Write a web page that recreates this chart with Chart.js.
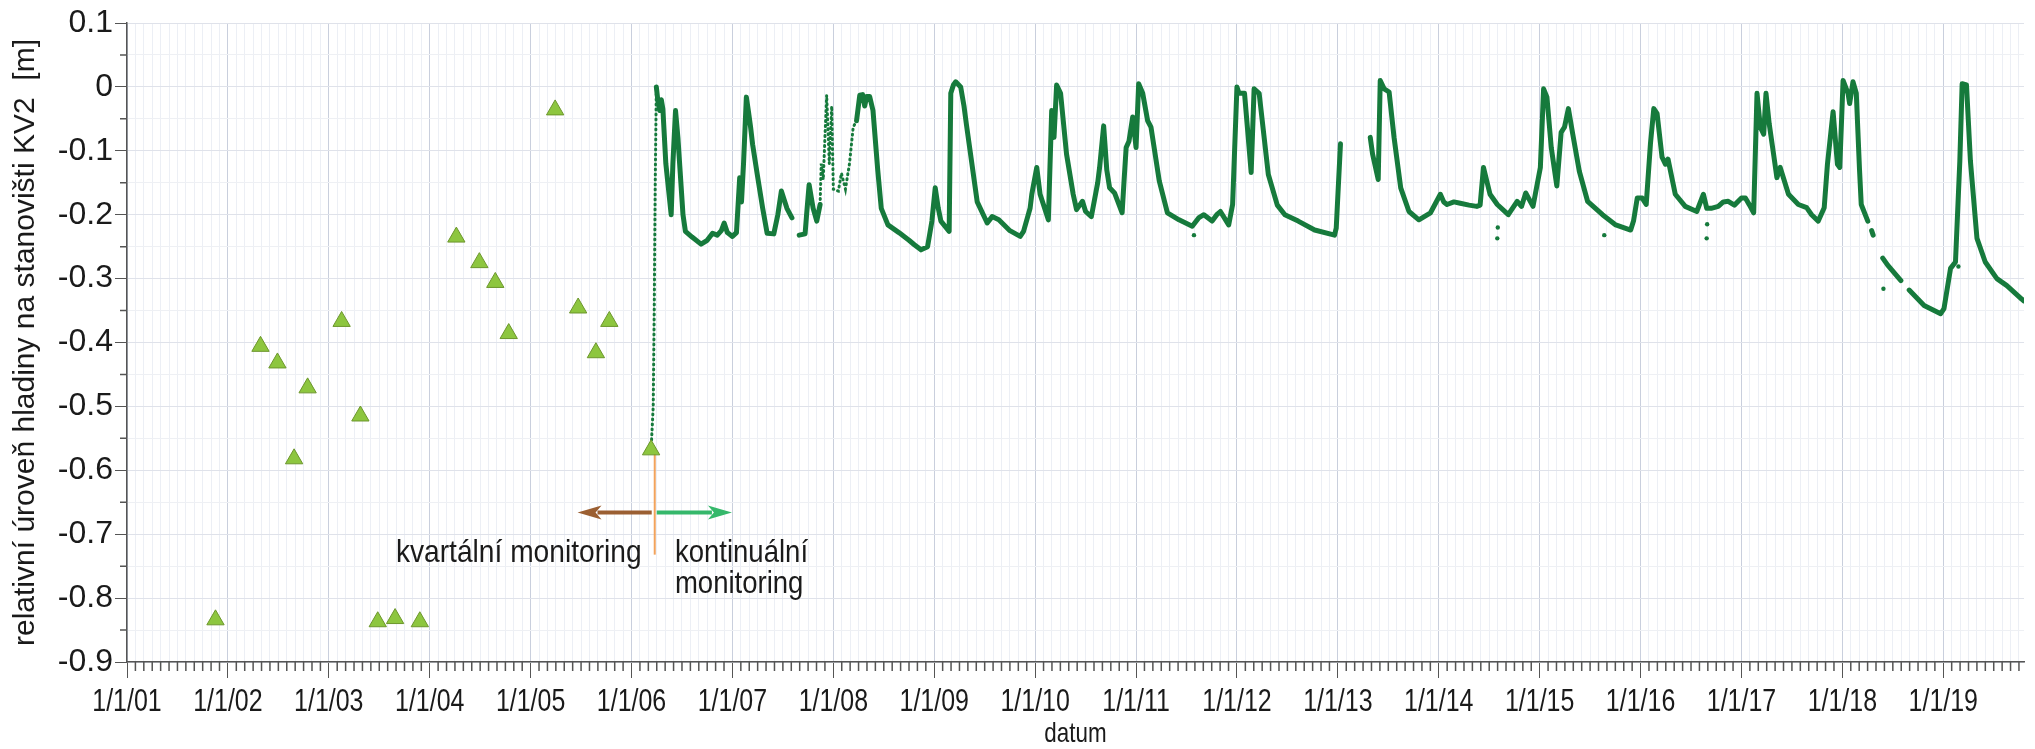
<!DOCTYPE html>
<html>
<head>
<meta charset="utf-8">
<title>KV2</title>
<script src="https://cdn.jsdelivr.net/npm/chart.js@4.4.0/dist/chart.umd.min.js"></script>
<style>
  html, body { margin: 0; padding: 0; background: #fff; }
  #wrap { position: relative; width: 2035px; height: 749px; }
</style>
</head>
<body>
<div id="wrap"><canvas id="kv2Chart"></canvas></div>
<script>
// x values are decimal years, y values relative water level [m]

// quarterly readings (triangles)
const quarterYears = [2001.877, 2002.323, 2002.491, 2002.656, 2002.790, 2003.127, 2003.313, 2003.485, 2003.657, 2003.902,
    2004.264, 2004.492, 2004.650, 2004.783, 2005.243, 2005.471, 2005.647, 2005.780, 2006.194];
const quarterLevels = [-0.834, -0.406, -0.432, -0.582, -0.471, -0.367, -0.515, -0.837, -0.832, -0.837,
    -0.235, -0.275, -0.306, -0.386, -0.036, -0.346, -0.416, -0.367, -0.568];

// logger record, null = gap in the record
const loggerYears = [
    2006.246, 2006.260, 2006.279, 2006.295, 2006.311, 2006.340, 2006.393, 2006.410, 2006.436, 2006.460,
    2006.510, 2006.534, 2006.600, 2006.689, 2006.750, 2006.803, 2006.850, 2006.890, 2006.918, 2006.950,
    2007.000, 2007.040, 2007.072, 2007.090, 2007.110, 2007.138, 2007.160, 2007.180, 2007.200, 2007.246,
    2007.300, 2007.344, 2007.410, 2007.450, 2007.485, 2007.540, 2007.590, 2007.620, 2007.662, 2007.720,
    2007.735, 2007.760, 2007.800, 2007.836, 2007.869, 2007.900, 2008.230, 2008.262, 2008.290, 2008.311,
    2008.330, 2008.360, 2008.393, 2008.440, 2008.475, 2008.541, 2008.650, 2008.750, 2008.803, 2008.869,
    2008.934, 2008.977, 2009.010, 2009.040, 2009.066, 2009.148, 2009.164, 2009.190, 2009.213, 2009.262,
    2009.295, 2009.320, 2009.426, 2009.525, 2009.574, 2009.640, 2009.750, 2009.852, 2009.885, 2009.950,
    2009.967, 2010.016, 2010.049, 2010.131, 2010.164, 2010.187, 2010.213, 2010.252, 2010.311, 2010.377,
    2010.410, 2010.469, 2010.500, 2010.557, 2010.620, 2010.639, 2010.679, 2010.710, 2010.738, 2010.787,
    2010.862, 2010.880, 2010.902, 2010.930, 2010.967, 2011.000, 2011.026, 2011.066, 2011.115, 2011.148,
    2011.230, 2011.311, 2011.426, 2011.557, 2011.620, 2011.672, 2011.754, 2011.800, 2011.836, 2011.918,
    2011.957, 2012.000, 2012.020, 2012.075, 2012.141, 2012.170, 2012.220, 2012.311, 2012.400, 2012.475,
    2012.607, 2012.770, 2012.967, 2012.984, 2013.026, 2013.100, 2013.321, 2013.344, 2013.400, 2013.420,
    2013.459, 2013.508, 2013.557, 2013.623, 2013.705, 2013.803, 2013.918, 2014.016, 2014.050, 2014.082,
    2014.150, 2014.213, 2014.300, 2014.377, 2014.410, 2014.443, 2014.508, 2014.580, 2014.689, 2014.777,
    2014.820, 2014.862, 2014.934, 2015.007, 2015.039, 2015.072, 2015.115, 2015.170, 2015.213, 2015.246,
    2015.285, 2015.328, 2015.393, 2015.475, 2015.623, 2015.754, 2015.902, 2015.930, 2015.967, 2016.016,
    2016.056, 2016.098, 2016.131, 2016.164, 2016.213, 2016.246, 2016.272, 2016.344, 2016.443, 2016.557,
    2016.623, 2016.656, 2016.700, 2016.770, 2016.820, 2016.869, 2016.930, 2017.000, 2017.039, 2017.080,
    2017.121, 2017.154, 2017.187, 2017.220, 2017.243, 2017.275, 2017.318, 2017.351, 2017.384, 2017.466,
    2017.564, 2017.646, 2017.695, 2017.761, 2017.820, 2017.852, 2017.908, 2017.951, 2017.974, 2018.007,
    2018.056, 2018.072, 2018.105, 2018.138, 2018.170, 2018.187, 2018.252, 2018.270, 2018.290, 2018.305,
    2018.350, 2018.400, 2018.449, 2018.580, 2018.620, 2018.662, 2018.810, 2018.974, 2019.007, 2019.072,
    2019.121, 2019.164, 2019.187, 2019.230, 2019.269, 2019.334, 2019.416, 2019.531, 2019.630, 2019.777,
    2019.800
];
const loggerLevels = [
    0.000, -0.020, -0.037, -0.020, -0.035, -0.120, -0.200, -0.120, -0.037, -0.080,
    -0.200, -0.226, -0.235, -0.246, -0.240, -0.229, -0.232, -0.225, -0.213, -0.228,
    -0.234, -0.228, -0.142, -0.180, -0.120, -0.016, -0.040, -0.063, -0.090, -0.137,
    -0.190, -0.229, -0.230, -0.200, -0.163, -0.190, -0.205, null, -0.232, -0.230,
    -0.200, -0.153, -0.190, -0.210, -0.184, null, -0.053, -0.013, -0.012, -0.030,
    -0.015, -0.015, -0.037, -0.130, -0.190, -0.216, -0.228, -0.240, -0.247, -0.255,
    -0.250, -0.210, -0.158, -0.190, -0.210, -0.226, -0.010, 0.003, 0.008, 0.000,
    -0.030, -0.060, -0.180, -0.213, -0.203, -0.208, -0.225, -0.234, -0.226, -0.190,
    -0.168, -0.126, -0.168, -0.208, -0.037, -0.079, 0.003, -0.010, -0.105, -0.168,
    -0.192, -0.179, -0.195, -0.203, -0.150, -0.126, -0.061, -0.130, -0.158, -0.166,
    -0.197, -0.150, -0.095, -0.085, -0.047, -0.095, 0.005, -0.010, -0.053, -0.063,
    -0.147, -0.197, -0.208, -0.218, -0.205, -0.200, -0.210, -0.200, -0.195, -0.216,
    -0.184, 0.000, -0.010, -0.010, -0.134, -0.003, -0.010, -0.137, -0.185, -0.200,
    -0.210, -0.224, -0.232, -0.221, -0.089, null, -0.079, -0.105, -0.145, 0.010,
    -0.003, -0.008, -0.079, -0.158, -0.195, -0.208, -0.197, -0.168, -0.180, -0.184,
    -0.180, -0.182, -0.185, -0.187, -0.185, -0.126, -0.168, -0.184, -0.200, -0.179,
    -0.187, -0.166, -0.187, -0.126, -0.003, -0.016, -0.095, -0.155, -0.071, -0.063,
    -0.034, -0.074, -0.132, -0.179, -0.200, -0.216, -0.224, -0.210, -0.174, -0.174,
    -0.184, -0.089, -0.034, -0.042, -0.110, -0.121, -0.113, -0.168, -0.187, -0.195,
    -0.168, -0.190, -0.190, -0.187, -0.180, -0.179, -0.185, -0.174, -0.174, -0.185,
    -0.197, -0.010, -0.063, -0.074, -0.010, -0.058, -0.105, -0.142, -0.126, -0.168,
    -0.184, -0.189, -0.200, -0.210, -0.189, -0.121, -0.039, -0.121, -0.126, 0.010,
    -0.010, -0.026, 0.008, -0.010, -0.130, -0.184, -0.210, null, -0.225, -0.232,
    null, -0.268, -0.279, -0.303, null, -0.318, -0.342, -0.355, -0.347, -0.284,
    -0.274, -0.116, 0.005, 0.003, -0.116, -0.237, -0.274, -0.300, -0.311, -0.332,
    -0.335
];

// thin dotted stretches: start of logging and the sparse winter 2007/08
const sparseYears = [2006.194, 2006.215, 2006.225, 2006.235, 2006.246, 2007.000,
    2007.869, 2007.880, 2007.900, 2007.934, 2007.960, 2007.984, 2008.000, 2008.050, 2008.080, 2008.120,
    2008.160, 2008.197, 2008.230];
const sparseLevels = [-0.568, -0.500, -0.350, -0.150, 0.000, null,
    -0.184, -0.120, -0.145, -0.013, -0.120, -0.030, -0.160, -0.163, -0.135, -0.160,
    -0.120, -0.063, -0.053];

// single stray logger readings
const strayYears = [2011.574, 2014.580, 2014.585, 2015.640, 2016.655, 2016.660, 2018.407, 2019.150];
const strayLevels = [-0.232, -0.237, -0.220, -0.232, -0.237, -0.215, -0.316, -0.281];

const yearLabels = ['1/1/01', '1/1/02', '1/1/03', '1/1/04', '1/1/05', '1/1/06', '1/1/07', '1/1/08', '1/1/09', '1/1/10',
    '1/1/11', '1/1/12', '1/1/13', '1/1/14', '1/1/15', '1/1/16', '1/1/17', '1/1/18', '1/1/19'];

const SANS = "'Liberation Sans', Arial, sans-serif";
const AXIS = '#555';
const TEXT = '#1a1a1a';
const LINE_GREEN = '#167a3c';

// switch from quarterly to continuous monitoring
const switchYear = 2006.23;

const isWhole = v => Math.abs(v - Math.round(v)) < 1e-6;
const isTenth = v => Math.abs(v * 10 - Math.round(v * 10)) < 1e-6;

function toPoints(xs, ys) {
    return xs.map((x, i) => ({ x: x, y: ys[i] }));
}

// the original figure has tall, narrow lettering - squeeze the text horizontally
function drawNarrow(ctx, text, x, y, align, size, squeeze) {
    ctx.save();
    ctx.translate(x, y);
    ctx.scale(squeeze, 1);
    ctx.font = size + 'px ' + SANS;
    ctx.fillStyle = TEXT;
    ctx.textAlign = align;
    ctx.textBaseline = 'middle';
    ctx.fillText(text, 0, 0);
    ctx.restore();
}

function drawArrow(ctx, x0, x1, y, color) {
    const dir = Math.sign(x1 - x0);
    const head = 24;
    ctx.strokeStyle = color;
    ctx.fillStyle = color;
    ctx.lineWidth = 4;
    ctx.beginPath();
    ctx.moveTo(x0, y);
    ctx.lineTo(x1 - dir * (head - 4), y);
    ctx.stroke();
    ctx.beginPath();
    ctx.moveTo(x1, y);
    ctx.lineTo(x1 - dir * head, y - 7);
    ctx.lineTo(x1 - dir * (head - 6), y);
    ctx.lineTo(x1 - dir * head, y + 7);
    ctx.closePath();
    ctx.fill();
}

const monitoringNotePlugin = {
    id: 'monitoringNote',
    beforeDatasetsDraw: (chart) => {
        const { ctx, scales } = chart;
        const x = scales.x, y = scales.y;
        const xs = x.getPixelForValue(switchYear);

        ctx.save();
        ctx.strokeStyle = '#f2a35c';
        ctx.lineWidth = 2;
        ctx.beginPath();
        ctx.moveTo(xs, y.getPixelForValue(-0.568));
        ctx.lineTo(xs, y.getPixelForValue(-0.732));
        ctx.stroke();

        const ya = y.getPixelForValue(-0.666);
        drawArrow(ctx, xs - 3, x.getPixelForValue(2005.465), ya, '#9b5f32');
        drawArrow(ctx, xs + 2, x.getPixelForValue(2006.995), ya, '#35b86b');
        ctx.restore();

        drawNarrow(ctx, 'kvartální monitoring', x.getPixelForValue(2006.10), y.getPixelForValue(-0.729), 'right', 32, 0.88);
        drawNarrow(ctx, 'kontinuální', x.getPixelForValue(2006.43), y.getPixelForValue(-0.729), 'left', 32, 0.86);
        drawNarrow(ctx, 'monitoring', x.getPixelForValue(2006.43), y.getPixelForValue(-0.778), 'left', 32, 0.86);
    }
};

// short month / 0.05 ticks plus the date labels and axis name
const axisDetailPlugin = {
    id: 'axisDetail',
    afterDraw: (chart) => {
        const { ctx, chartArea, scales } = chart;
        ctx.save();
        ctx.strokeStyle = AXIS;
        ctx.lineWidth = 1.5;
        ctx.beginPath();
        scales.x.ticks.forEach(t => {
            if (isWhole(t.value)) return;
            const px = scales.x.getPixelForValue(t.value);
            ctx.moveTo(px, chartArea.bottom);
            ctx.lineTo(px, chartArea.bottom + 9);
        });
        scales.y.ticks.forEach(t => {
            if (isTenth(t.value)) return;
            const py = scales.y.getPixelForValue(t.value);
            ctx.moveTo(chartArea.left, py);
            ctx.lineTo(chartArea.left - 7, py);
        });
        ctx.stroke();
        ctx.restore();

        yearLabels.forEach((label, i) => {
            drawNarrow(ctx, label, scales.x.getPixelForValue(2001 + i), chartArea.bottom + 40, 'center', 32, 0.78);
        });
        drawNarrow(ctx, 'datum', (chartArea.left + chartArea.right) / 2, chartArea.bottom + 72, 'center', 28, 0.8);
    }
};

new Chart(document.getElementById('kv2Chart'), {
    type: 'line',
    data: {
        datasets: [{
            label: 'kvartální monitoring',
            data: toPoints(quarterYears, quarterLevels),
            showLine: false,
            pointStyle: 'triangle',
            pointRadius: 10,
            pointHoverRadius: 10,
            pointBackgroundColor: '#8dc63f',
            pointBorderColor: '#6c962c',
            pointBorderWidth: 1
        },
        {
            label: 'řídká data',
            data: toPoints(sparseYears, sparseLevels),
            borderColor: LINE_GREEN,
            borderWidth: 3,
            borderDash: [1, 4],
            borderCapStyle: 'round',
            pointRadius: 0,
            spanGaps: false
        },
        {
            label: 'kontinuální monitoring',
            data: toPoints(loggerYears, loggerLevels),
            borderColor: LINE_GREEN,
            borderWidth: 5,
            borderJoinStyle: 'round',
            borderCapStyle: 'round',
            pointRadius: 0,
            spanGaps: false
        },
        {
            label: 'ojedinělé hodnoty',
            data: toPoints(strayYears, strayLevels),
            showLine: false,
            pointRadius: 2.2,
            pointBackgroundColor: LINE_GREEN,
            pointBorderWidth: 0
        }]
    },
    options: {
        responsive: true,
        maintainAspectRatio: false,
        animation: false,
        layout: { padding: { top: 23, right: 0, bottom: 0, left: 0 } },
        plugins: {
            legend: { display: false },
            tooltip: { enabled: false }
        },
        scales: {
            x: {
                type: 'linear',
                min: 2001,
                max: 2019.8,
                afterBuildTicks: (scale) => {
                    const ticks = [];
                    for (let yr = 2001; yr <= 2019; yr++) {
                        for (let m = 0; m < 12; m++) {
                            const v = yr + m / 12;
                            if (v <= scale.max) ticks.push({ value: v });
                        }
                    }
                    scale.ticks = ticks;
                },
                afterFit: (scale) => { scale.height = 87; },
                grid: {
                    color: (c) => (c.tick && isWhole(c.tick.value)) ? '#c9cfdd' : '#eceff5',
                    tickColor: (c) => (c.tick && isWhole(c.tick.value)) ? AXIS : 'rgba(0,0,0,0)',
                    tickLength: 16,
                    lineWidth: 1
                },
                border: { color: AXIS, width: 1.5 },
                ticks: { display: false, autoSkip: false, maxRotation: 0 }
            },
            y: {
                min: -0.9,
                max: 0.1,
                afterBuildTicks: (scale) => {
                    const ticks = [];
                    for (let i = 0; i <= 20; i++) {
                        ticks.push({ value: Math.round((-0.9 + i * 0.05) * 100) / 100 });
                    }
                    scale.ticks = ticks;
                },
                afterFit: (scale) => { scale.width = 127; },
                grid: {
                    color: (c) => (c.tick && isTenth(c.tick.value)) ? '#dfe2ea' : '#eef0f4',
                    tickColor: (c) => (c.tick && isTenth(c.tick.value)) ? AXIS : 'rgba(0,0,0,0)',
                    tickLength: 12,
                    lineWidth: 1
                },
                border: { color: AXIS, width: 1.5 },
                ticks: {
                    autoSkip: false,
                    padding: 2,
                    color: TEXT,
                    font: { family: SANS, size: 32 },
                    callback: (value) => {
                        if (!isTenth(value)) return '';
                        const r = Math.round(value * 10) / 10;
                        return r === 0 ? '0' : String(r);
                    }
                },
                title: {
                    display: true,
                    text: 'relativní úroveň hladiny na stanovišti KV2  [m]',
                    color: TEXT,
                    font: { family: SANS, size: 30 },
                    padding: { top: 8, bottom: 0 }
                }
            }
        }
    },
    plugins: [monitoringNotePlugin, axisDetailPlugin]
});
</script>
</body>
</html>
